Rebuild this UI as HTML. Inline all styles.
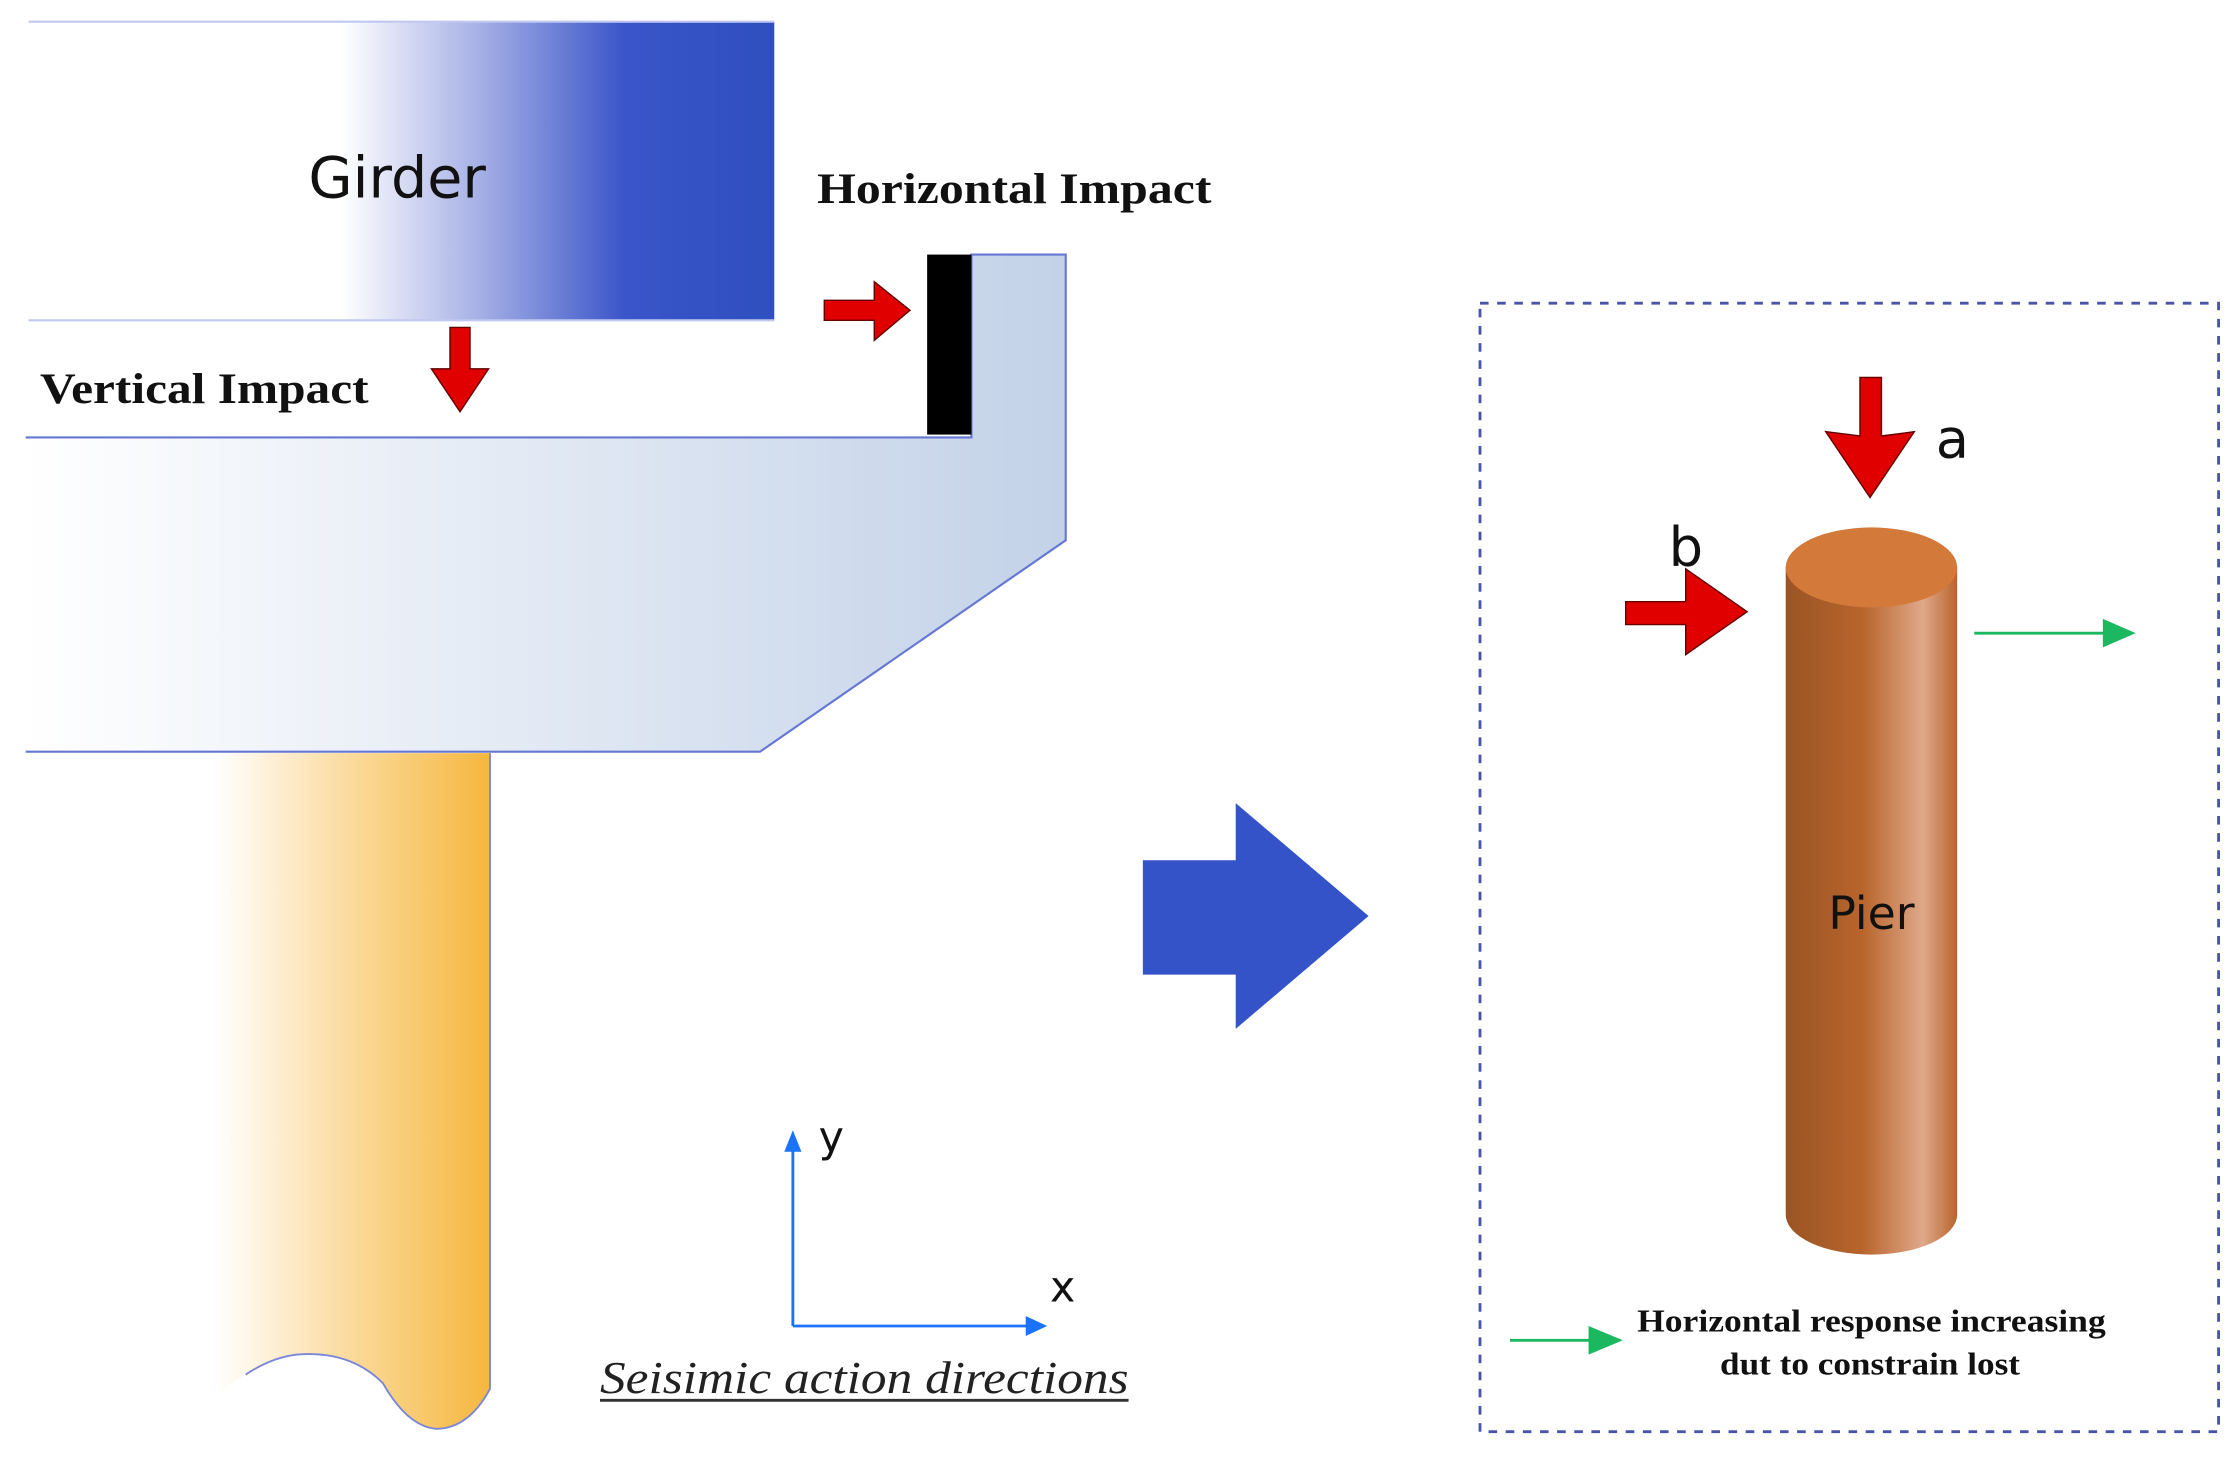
<!DOCTYPE html>
<html><head><meta charset="utf-8"><style>html,body{margin:0;padding:0;background:#fff}svg{display:block}</style></head>
<body>
<svg width="2240" height="1462" viewBox="0 0 1568 1023" xmlns="http://www.w3.org/2000/svg">
<defs>
<linearGradient id="gd" x1="0" x2="1" y1="0" y2="0">
<stop offset="0" stop-color="#fff"/><stop offset="0.42" stop-color="#fff"/><stop offset="0.6" stop-color="#a8b2e6"/><stop offset="0.8" stop-color="#3a55c9"/><stop offset="1" stop-color="#2f4fbf"/></linearGradient>
<linearGradient id="cp" x1="0" x2="1"><stop offset="0" stop-color="#fff"/><stop offset="1" stop-color="#c3d2e8"/></linearGradient>
<linearGradient id="pc" x1="0" x2="1"><stop offset="0" stop-color="#fff" stop-opacity="0"/><stop offset="0.05" stop-color="#fff"/><stop offset="0.5" stop-color="#fbdca0"/><stop offset="1" stop-color="#f5b73e"/></linearGradient>
<linearGradient id="cy" x1="0" x2="1"><stop offset="0" stop-color="#9a5424"/><stop offset="0.45" stop-color="#b8652c"/><stop offset="0.8" stop-color="#dfa88a"/><stop offset="1" stop-color="#b8652c"/></linearGradient>
<linearGradient id="ln" x1="0" x2="1"><stop offset="0" stop-color="#6577d3" stop-opacity="0.1"/><stop offset="0.15" stop-color="#6577d3"/></linearGradient>
</defs>
<!-- girder -->
<rect x="20" y="15" width="522" height="209" fill="url(#gd)"/>
<line x1="20" y1="15" x2="542" y2="15" stroke="#c0c8f0" stroke-width="1.5"/>
<line x1="20" y1="224" x2="542" y2="224" stroke="#c0c8f0" stroke-width="1.5"/>
<text x="278" y="138" font-family="DejaVu Sans, Liberation Sans, sans-serif" font-size="40" text-anchor="middle" fill="#111">Girder</text>
<!-- cap -->
<polygon points="18,306 680,306 680,178 746,178 746,378 532,526 18,526" fill="url(#cp)"/>
<polyline points="18,306 680,306 680,178 746,178 746,378 532,526 18,526" fill="none" stroke="#6577d3" stroke-width="1.5"/>
<rect x="649" y="178" width="31" height="126" fill="#000"/>
<!-- pier column -->
<path d="M140,527 L343,527 L343,972 Q328,1000 305,1000 Q285,998 268,968 Q245,945 208,948 Q180,952 150,978 L140,978 Z" fill="url(#pc)"/>
<path d="M343,527 L343,972 Q328,1000 305,1000 Q285,998 268,968 Q245,945 208,948 Q190,950 172,962" fill="none" stroke="#7a86d8" stroke-width="1.3"/>
<!-- red arrows -->
<polygon points="577,210 612,210 612,197 637,217 612,238 612,224 577,224" fill="#e00000" stroke="#600" stroke-width="1"/>
<polygon points="315,229 329,229 329,258 342,258 322,288 302,258 315,258" fill="#e00000" stroke="#600" stroke-width="1"/>
<text x="28" y="282" font-family="Liberation Serif, serif" font-weight="bold" font-size="30" textLength="230" lengthAdjust="spacingAndGlyphs" fill="#111">Vertical Impact</text>
<text x="572" y="142" font-family="Liberation Serif, serif" font-weight="bold" font-size="30" textLength="276" lengthAdjust="spacingAndGlyphs" fill="#111">Horizontal Impact</text>
<!-- big blue arrow -->
<polygon points="800,602 865,602 865,562 958,641 865,720 865,682 800,682" fill="#3553c9"/>
<!-- axes -->
<line x1="555" y1="928" x2="555" y2="805" stroke="#1a73ff" stroke-width="2"/>
<polygon points="549,806 555,791 561,806" fill="#1a73ff"/>
<line x1="555" y1="928" x2="720" y2="928" stroke="#1a73ff" stroke-width="2"/>
<polygon points="718,921 733,928 718,935" fill="#1a73ff"/>
<text x="573" y="806" font-family="DejaVu Sans, sans-serif" font-size="30" fill="#111">y</text>
<text x="735" y="911" font-family="DejaVu Sans, sans-serif" font-size="30" fill="#111">x</text>
<text x="420" y="975" font-family="Liberation Serif, serif" font-style="italic" font-size="32" textLength="370" lengthAdjust="spacingAndGlyphs" fill="#222">Seisimic action directions</text>
<line x1="420" y1="980" x2="790" y2="980" stroke="#333" stroke-width="2"/>
<!-- dashed box -->
<rect x="1036" y="212" width="517" height="790" fill="none" stroke="#4a55a8" stroke-width="2" stroke-dasharray="6,6"/>
<!-- cylinder -->
<path d="M1250,397 L1250,850 A60,28 0 0 0 1370,850 L1370,397 Z" fill="url(#cy)"/>
<ellipse cx="1310" cy="397" rx="60" ry="28" fill="#d3793a"/>
<text x="1310" y="650" font-family="DejaVu Sans, sans-serif" font-size="32" text-anchor="middle" fill="#111">Pier</text>
<!-- arrow a -->
<polygon points="1302,264 1317,264 1317,305 1340,302 1309,348 1278,302 1302,305" fill="#e00000" stroke="#600" stroke-width="1"/>
<text x="1355" y="320" font-family="DejaVu Sans, sans-serif" font-size="38" fill="#111">a</text>
<!-- arrow b -->
<polygon points="1138,421 1180,421 1180,398 1223,428 1180,458 1180,437 1138,437" fill="#e00000" stroke="#600" stroke-width="1"/>
<text x="1168" y="396" font-family="DejaVu Sans, sans-serif" font-size="38" fill="#111">b</text>
<!-- green arrows -->
<line x1="1382" y1="443" x2="1475" y2="443" stroke="#1cb860" stroke-width="2"/>
<polygon points="1472,433 1495,443 1472,453" fill="#1cb860"/>
<line x1="1057" y1="938" x2="1115" y2="938" stroke="#1cb860" stroke-width="2"/>
<polygon points="1112,928 1136,938 1112,948" fill="#1cb860"/>
<text x="1146" y="932" font-family="Liberation Serif, serif" font-weight="bold" font-size="22" textLength="328" lengthAdjust="spacingAndGlyphs" fill="#111">Horizontal response increasing</text>
<text x="1204" y="962" font-family="Liberation Serif, serif" font-weight="bold" font-size="22" textLength="210" lengthAdjust="spacingAndGlyphs" fill="#111">dut to constrain lost</text>
</svg>
</body></html>
